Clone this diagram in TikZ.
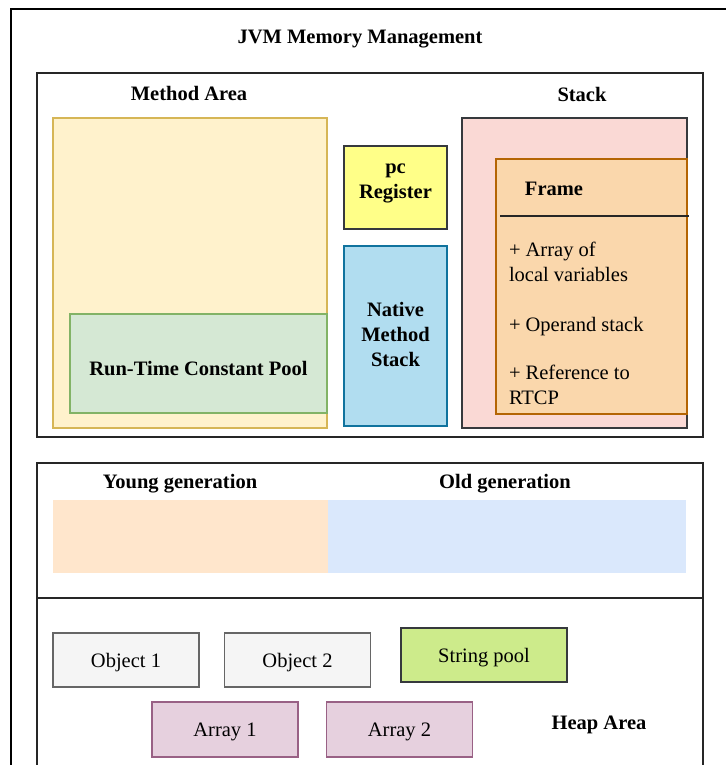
\documentclass[tikz,border=0pt]{standalone}
\usepackage{fontspec}
\setmainfont{Liberation Serif}
\definecolor{maFill}{HTML}{FFF2CC}\definecolor{maDraw}{HTML}{D6B656}
\definecolor{gFill}{HTML}{D5E8D4}\definecolor{gDraw}{HTML}{82B366}
\definecolor{pcFill}{HTML}{FFFF88}\definecolor{darkDraw}{HTML}{36393D}
\definecolor{nFill}{HTML}{B1DDF0}\definecolor{nDraw}{HTML}{10739E}
\definecolor{sFill}{HTML}{FAD9D5}
\definecolor{fFill}{HTML}{FAD7AC}\definecolor{fDraw}{HTML}{B46504}
\definecolor{yFill}{HTML}{FFE6CC}\definecolor{oFill}{HTML}{DAE8FC}
\definecolor{obFill}{HTML}{F5F5F5}\definecolor{obDraw}{HTML}{666666}
\definecolor{spFill}{HTML}{CDEB8B}
\definecolor{arFill}{HTML}{E6D0DE}\definecolor{arDraw}{HTML}{996185}
\begin{document}
\begin{tikzpicture}[x=1pt,y=-1pt,
  every node/.style={inner sep=0pt, outer sep=0pt},
  area/.style={draw=black!85, line width=1.8pt},
  cbox/.style={line width=1.4pt},
  lbl/.style={font=\bfseries\fontsize{20.5}{25}\selectfont, align=center},
  txt/.style={font=\fontsize{20.5}{24.5}\selectfont, align=left},
  btxt/.style={font=\fontsize{20.5}{24}\selectfont, text depth=0pt}]
\useasboundingbox (0,0) rectangle (726,765);
% outer frame (cropped)
\coordinate (o1) at (11,765);
\coordinate (o2) at (11,9);
\coordinate (o3) at (726,9);
\draw[line width=2pt] (o1) -- (o2) -- (o3);
\node[lbl] (title) at (360,39) {JVM Memory Management};

% runtime areas box
\node[area, minimum width=666, minimum height=364] (rt) at (370,255) {};
\node[lbl] (malbl) at (189,93) {Method Area};
\node[lbl] (stlbl) at (582,94) {Stack};

\node[cbox, fill=maFill, draw=maDraw, minimum width=274, minimum height=310] (ma) at (190,273) {};
\node[cbox, fill=gFill, draw=gDraw, minimum width=257, minimum height=99] (rtcp) at (198.5,363.5) {};
\node[lbl] (rtcplbl) at (198.5,369) {Run-Time Constant Pool};

\node[cbox, fill=pcFill, draw=darkDraw, minimum width=103, minimum height=83] (pc) at (395.5,187.5) {};
\node[lbl] (pclbl) at (395.5,183) {pc\\Register};
\node[cbox, fill=nFill, draw=nDraw, minimum width=103, minimum height=180] (nms) at (395.5,336) {};
\node[lbl] (nmslbl) at (395.5,334) {Native\\Method\\Stack};

\node[cbox, fill=sFill, draw=darkDraw, minimum width=225, minimum height=310] (stack) at (574.5,273) {};
\node[cbox, fill=fFill, draw=fDraw, minimum width=191, minimum height=255] (frame) at (591.5,286.5) {};
\node[lbl] (framelbl) at (554,189) {Frame};
\coordinate (fl) at (500,216);
\coordinate (fr) at (689,216);
\draw[line width=1.5pt, black!85] (fl) -- (fr);
\node[txt, anchor=west] (it1) at (509,262) {+ Array of\\local variables};
\node[txt, anchor=west] (it2) at (509,327) {+ Operand stack};
\node[txt, anchor=west] (it3) at (509,385) {+ Reference to\\RTCP};

% heap area (cropped)
\coordinate (h1) at (37,765);
\coordinate (h2) at (37,463);
\coordinate (h3) at (703,463);
\coordinate (h4) at (703,765);
\coordinate (d1) at (37,598);
\coordinate (d2) at (703,598);
\draw[area] (h1) -- (h2) -- (h3) -- (h4);
\draw[area] (d1) -- (d2);

\node[lbl] (yglbl) at (180,484) {Young generation};
\node[lbl] (oglbl) at (505,484) {Old generation};
\node[fill=yFill, minimum width=275, minimum height=73] (young) at (190.5,536.5) {};
\node[fill=oFill, minimum width=358, minimum height=73] (old) at (507,536.5) {};

\node[cbox, btxt, fill=obFill, draw=obDraw, minimum width=146, minimum height=54] (obj1) at (126,660) {Object 1};
\node[cbox, btxt, fill=obFill, draw=obDraw, minimum width=146, minimum height=54] (obj2) at (297.5,660) {Object 2};
\node[cbox, btxt, fill=spFill, draw=darkDraw, minimum width=166, minimum height=54] (sp) at (484,655) {String pool};
\node[cbox, btxt, fill=arFill, draw=arDraw, minimum width=146, minimum height=55] (arr1) at (225,729.5) {Array 1};
\node[cbox, btxt, fill=arFill, draw=arDraw, minimum width=146, minimum height=55] (arr2) at (399.5,729.5) {Array 2};
\node[lbl] (heaplbl) at (599,725) {Heap Area};
\end{tikzpicture}
\end{document}
